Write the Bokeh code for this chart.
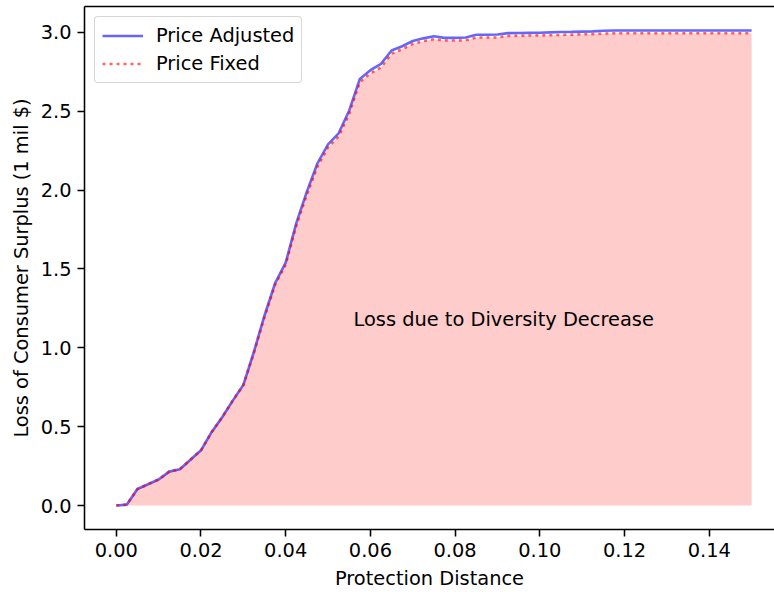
from bokeh.plotting import figure
from bokeh.models import (ColumnDataSource, FixedTicker, PrintfTickFormatter,
                          LinearAxis, Range1d, Legend)
from bokeh.core.properties import value
from bokeh.embed import file_html
from bokeh.resources import INLINE

# ---------------- data ----------------
distance = [0.0000, 0.0025, 0.0050, 0.0075, 0.0100, 0.0125, 0.0150, 0.0175, 0.0200, 0.0225,
            0.0250, 0.0275, 0.0300, 0.0325, 0.0350, 0.0375, 0.0400, 0.0425, 0.0450, 0.0475,
            0.0500, 0.0525, 0.0550, 0.0575, 0.0600, 0.0625, 0.0650, 0.0675, 0.0700, 0.0725,
            0.0750, 0.0775, 0.0800, 0.0825, 0.0850, 0.0875, 0.0900, 0.0925, 0.0950, 0.0975,
            0.1000, 0.1025, 0.1050, 0.1075, 0.1100, 0.1125, 0.1150, 0.1175, 0.1200, 0.1225,
            0.1250, 0.1275, 0.1300, 0.1325, 0.1350, 0.1375, 0.1400, 0.1425, 0.1450, 0.1475,
            0.1500]

price_adjusted = [0.000, 0.006, 0.105, 0.135, 0.165, 0.215, 0.230, 0.290, 0.350, 0.465,
                  0.560, 0.665, 0.765, 0.975, 1.205, 1.410, 1.540, 1.790, 1.990, 2.170,
                  2.290, 2.360, 2.505, 2.705, 2.760, 2.800, 2.885, 2.912, 2.945, 2.962,
                  2.975, 2.965, 2.965, 2.967, 2.985, 2.985, 2.986, 2.995, 2.996, 2.997,
                  2.998, 3.000, 3.002, 3.003, 3.005, 3.006, 3.010, 3.012, 3.012, 3.012,
                  3.012, 3.012, 3.012, 3.012, 3.012, 3.012, 3.012, 3.012, 3.012, 3.012,
                  3.012]

price_fixed = [0.000, 0.006, 0.105, 0.135, 0.165, 0.215, 0.230, 0.290, 0.350, 0.465,
               0.560, 0.665, 0.763, 0.968, 1.196, 1.400, 1.528, 1.775, 1.972, 2.150,
               2.272, 2.340, 2.485, 2.685, 2.740, 2.778, 2.865, 2.893, 2.927, 2.944,
               2.957, 2.948, 2.948, 2.950, 2.967, 2.967, 2.968, 2.978, 2.979, 2.980,
               2.981, 2.982, 2.984, 2.985, 2.988, 2.989, 2.992, 2.994, 2.994, 2.994,
               2.994, 2.994, 2.994, 2.994, 2.994, 2.994, 2.994, 2.994, 2.994, 2.994,
               2.994]

x_ticks = [0.00, 0.02, 0.04, 0.06, 0.08, 0.10, 0.12, 0.14]
y_ticks = [0.0, 0.5, 1.0, 1.5, 2.0, 2.5, 3.0]

annotation_text = "Loss due to Diversity Decrease"
annotation_pos = (0.0560, 1.18)

x_label = "Protection Distance"
y_label = "Loss of Consumer Surplus (1 mil $)"

FONT = "DejaVu Sans"
FS = "19.4px"

src = ColumnDataSource(dict(x=distance, adj=price_adjusted, fix=price_fixed))

p = figure(width=774, height=592, output_backend="svg", toolbar_location=None,
           x_range=Range1d(-0.0075, 0.1554), y_range=Range1d(-0.152, 3.164),
           min_border_left=84, min_border_right=0, min_border_top=6, min_border_bottom=0,
           background_fill_color="white", border_fill_color="white")
p.outline_line_color = None
p.xgrid.visible = False
p.ygrid.visible = False

# fill area
p.varea(x="x", y1=0, y2="fix", source=src, fill_color="red", fill_alpha=0.2)

# lines
r_adj = p.line(x="x", y="adj", source=src, line_color="blue", line_alpha=0.6, line_width=2.6)
r_fix = p.line(x="x", y="fix", source=src, line_color="red", line_alpha=0.6, line_width=2.6,
               line_dash="3 4")

# annotation
p.text(x=[annotation_pos[0]], y=[annotation_pos[1]], text=[annotation_text],
       text_font=value(FONT), text_font_size=FS, text_color="black",
       text_align="left", text_baseline="middle")

# axes styling
for ax in (p.xaxis[0], p.yaxis[0]):
    ax.axis_line_color = "black"
    ax.axis_line_width = 1.56
    ax.major_tick_line_color = "black"
    ax.major_tick_line_width = 1.56
    ax.major_tick_out = 7
    ax.major_tick_in = 0
    ax.minor_tick_out = 0
    ax.minor_tick_in = 0
    ax.major_label_text_font = FONT
    ax.major_label_text_font_size = FS
    ax.major_label_text_color = "black"
    ax.axis_label_text_font = FONT
    ax.axis_label_text_font_size = FS
    ax.axis_label_text_font_style = "normal"
    ax.axis_label_text_color = "black"

p.xaxis[0].ticker = FixedTicker(ticks=x_ticks)
p.xaxis[0].formatter = PrintfTickFormatter(format="%.2f")
p.xaxis[0].axis_label = x_label
p.xaxis[0].major_label_standoff = 6
p.xaxis[0].axis_label_standoff = 7

p.yaxis[0].ticker = FixedTicker(ticks=y_ticks)
p.yaxis[0].formatter = PrintfTickFormatter(format="%.1f")
p.yaxis[0].axis_label = y_label
p.yaxis[0].major_label_standoff = 6
p.yaxis[0].axis_label_standoff = 5

# top spine
top = LinearAxis(ticker=FixedTicker(ticks=[]), major_tick_out=0, major_tick_in=0,
                 minor_tick_out=0, minor_tick_in=0, major_label_text_font_size="0px",
                 axis_line_color="black", axis_line_width=1.56)
p.add_layout(top, "above")

# legend
legend = Legend(items=[("Price Adjusted", [r_adj]), ("Price Fixed", [r_fix])],
                location="top_left", margin=10, padding=7, spacing=5,
                glyph_width=41, glyph_height=23, label_height=23, label_standoff=13,
                label_text_font=FONT, label_text_font_size=FS, label_text_color="black",
                border_line_color="#cccccc", border_line_alpha=0.8, border_line_width=1.5,
                background_fill_color="white", background_fill_alpha=0.8)
if "border_radius" in Legend.properties():
    legend.border_radius = 4
p.add_layout(legend)

open("out.html", "w").write(file_html(p, INLINE))
